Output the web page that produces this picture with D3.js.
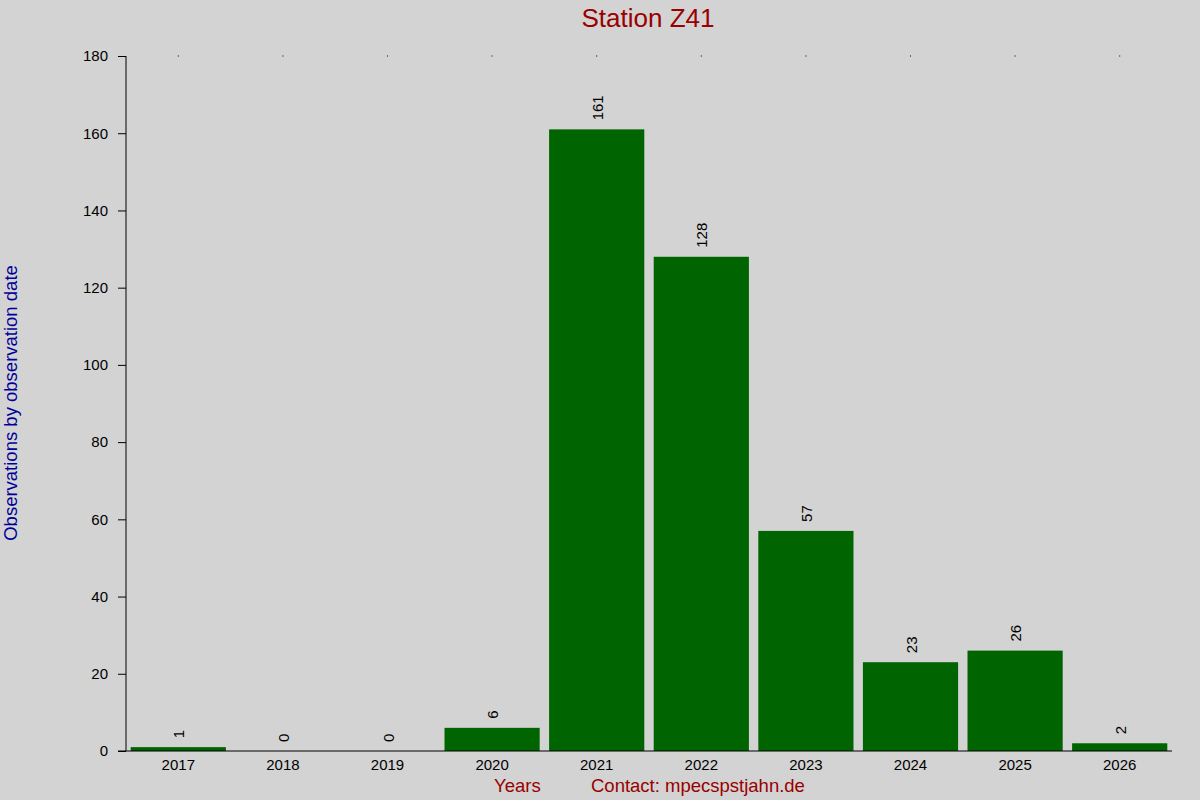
<!DOCTYPE html>
<html>
<head>
<meta charset="utf-8">
<script src="https://cdn.jsdelivr.net/npm/d3@7"></script>
<style>
  body { margin: 0; background: #d3d3d3; }
  svg { display: block; font-family: "Liberation Sans", Arial, sans-serif; }
</style>
</head>
<body>
<script>
var years = ['2017', '2018', '2019', '2020', '2021', '2022', '2023', '2024', '2025', '2026'];
var counts = [1, 0, 0, 6, 161, 128, 57, 23, 26, 2];
var yTicks = [0, 20, 40, 60, 80, 100, 120, 140, 160, 180];

var width = 1200;
var height = 800;
var margin = {top: 56, right: 28, bottom: 49, left: 126};
var font = '"Liberation Sans", Arial, sans-serif';

var svg = d3.select('body').append('svg')
  .attr('width', width)
  .attr('height', height);

svg.append('rect').attr('width', width).attr('height', height).attr('fill', '#d3d3d3');

var x = d3.scaleBand()
  .domain(years)
  .range([margin.left, width - margin.right])
  .paddingInner(0.09)
  .paddingOuter(0.045);

var y = d3.scaleLinear()
  .domain([0, 180])
  .range([height - margin.bottom, margin.top]);

// bars
svg.selectAll('.bar').data(counts).enter().append('rect')
  .attr('class', 'bar')
  .attr('x', function (d, i) { return x(years[i]); })
  .attr('width', x.bandwidth())
  .attr('y', function (d) { return y(d); })
  .attr('height', function (d) { return y(0) - y(d); })
  .attr('fill', '#006400');

// value labels
svg.selectAll('.val').data(counts).enter().append('text')
  .attr('class', 'val')
  .attr('transform', function (d, i) {
    return 'translate(' + (x(years[i]) + x.bandwidth() / 2 + 6) + ',' + (y(d) - 9) + ') rotate(-90)';
  })
  .attr('font-size', 15)
  .attr('fill', '#000')
  .text(function (d) { return d; });

// y axis
var yAxis = svg.append('g')
  .attr('transform', 'translate(' + margin.left + ',0)')
  .call(d3.axisLeft(y).tickValues(yTicks).tickSize(8).tickPadding(10));
yAxis.select('.domain').attr('stroke', '#000').attr('d', 'M0,' + y(180) + 'V' + y(0));
yAxis.selectAll('text').attr('font-size', 15).attr('fill', '#000').attr('font-family', font);

// x axis
var xAxis = svg.append('g')
  .attr('transform', 'translate(0,' + y(0) + ')')
  .call(d3.axisBottom(x).tickSize(0).tickPadding(8));
xAxis.select('.domain').attr('d', 'M' + (margin.left - 8) + ',0H' + (width - margin.right));
xAxis.selectAll('text').attr('font-size', 15).attr('fill', '#000').attr('font-family', font);

// small top ticks
svg.selectAll('.topdot').data(years).enter().append('rect')
  .attr('class', 'topdot')
  .attr('x', function (d) { return x(d) + x.bandwidth() / 2 - 0.5; })
  .attr('y', y(180) - 0.5)
  .attr('width', 1)
  .attr('height', 1)
  .attr('fill', '#000');

// title
svg.append('text')
  .attr('x', 648).attr('y', 27)
  .attr('text-anchor', 'middle')
  .attr('font-size', 26)
  .attr('fill', '#990000')
  .text('Station Z41');

// y label
svg.append('text')
  .attr('transform', 'translate(17,403) rotate(-90)')
  .attr('text-anchor', 'middle')
  .attr('font-size', 18.5)
  .attr('fill', '#000099')
  .text('Observations by observation date');

// footer
svg.append('text')
  .attr('x', 494).attr('y', 792)
  .attr('font-size', 18.5)
  .attr('fill', '#990000')
  .text('Years');

svg.append('text')
  .attr('x', 591).attr('y', 792)
  .attr('font-size', 18.5)
  .attr('fill', '#990000')
  .text('Contact: mpecspstjahn.de');
</script>
</body>
</html>
